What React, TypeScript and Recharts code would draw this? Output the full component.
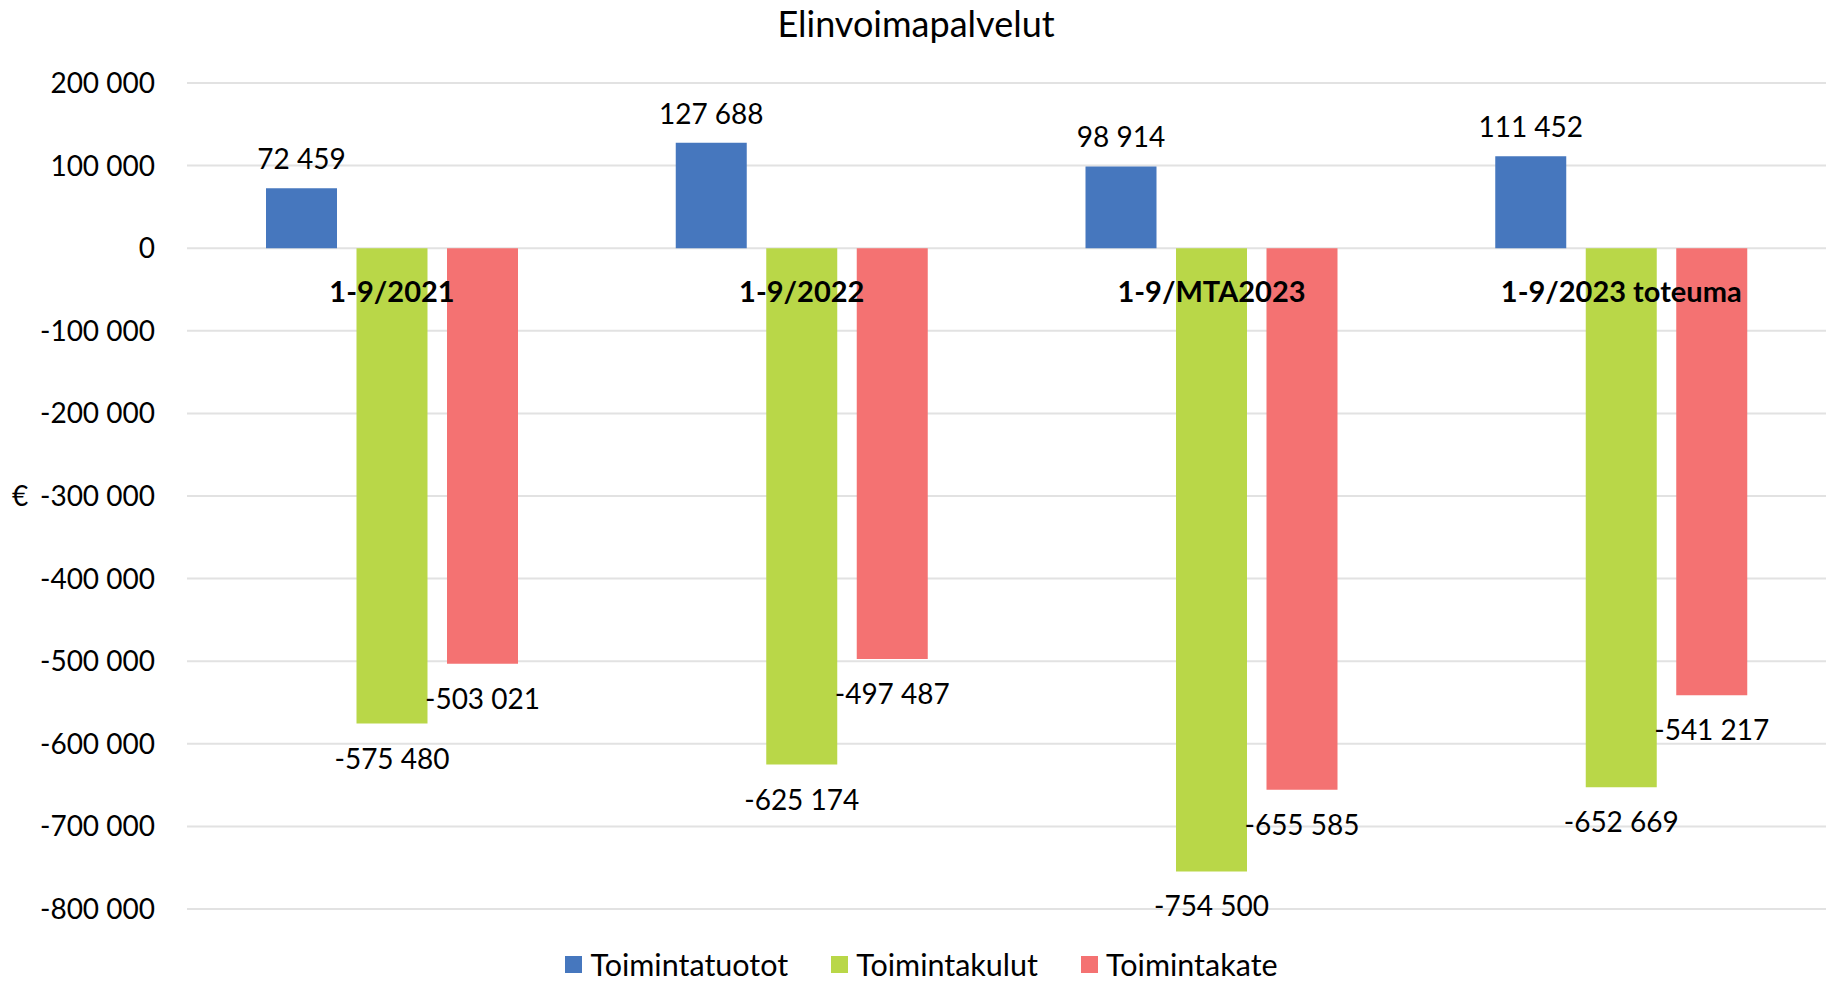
import { BarChart, Bar, XAxis, YAxis, CartesianGrid, Legend, LabelList } from 'recharts';

const categories = ['1-9/2021', '1-9/2022', '1-9/MTA2023', '1-9/2023 toteuma'];
const seriesNames = ['Toimintatuotot', 'Toimintakulut', 'Toimintakate'];
const toimintatuotot = [72459, 127688, 98914, 111452];
const toimintakulut = [-575480, -625174, -754500, -652669];
const toimintakate = [-503021, -497487, -655585, -541217];
const yTicks = [200000, 100000, 0, -100000, -200000, -300000, -400000, -500000, -600000, -700000, -800000];

const data = categories.map((name, i) => ({
  name,
  tuotot: toimintatuotot[i],
  kulut: toimintakulut[i],
  kate: toimintakate[i],
}));

const FONT = 'Lato, "Noto Sans", sans-serif';

// thousands with a plain space, as in the Finnish original
const fmt = (v: number) => String(v).replace(/\B(?=(\d{3})+(?!\d))/g, ' ');

function box(props: any) {
  const vb = props.viewBox ?? props;
  const top = Math.min(vb.y, vb.y + vb.height);
  const bottom = Math.max(vb.y, vb.y + vb.height);
  return { cx: vb.x + vb.width / 2, top, bottom };
}

function ValueLabel(props: any) {
  const { cx, top, bottom } = box(props);
  const v = Number(props.value);
  const y = v >= 0 ? top - 30 : bottom + 34;
  return (
    <text x={cx} y={y} textAnchor="middle" dominantBaseline="central" fill="#000" fontSize={28} fontFamily={FONT}>
      {fmt(v)}
    </text>
  );
}

// category names sit just under the zero line, centred on the middle bar
function CategoryLabel(props: any) {
  const { cx, top } = box(props);
  return (
    <text x={cx} y={top + 42} textAnchor="middle" dominantBaseline="central" fill="#000" fontSize={29} fontWeight={700} fontFamily={FONT}>
      {props.value}
    </text>
  );
}

function LegendContent({ payload }: any) {
  // keep series order instead of the alphabetical default
  const items = [...(payload ?? [])].sort(
    (a: any, b: any) => seriesNames.indexOf(a.value) - seriesNames.indexOf(b.value),
  );
  return (
    <div style={{ display: 'flex', justifyContent: 'center', alignItems: 'center', height: 28, gap: 43, fontFamily: FONT }}>
      {items.map((p: any) => (
        <div key={p.value} style={{ display: 'flex', alignItems: 'center', height: 28 }}>
          <span style={{ width: 17, height: 17, background: p.color, marginRight: 8, display: 'inline-block' }} />
          <span style={{ fontSize: 30.5, lineHeight: '28px', color: '#000' }}>{p.value}</span>
        </div>
      ))}
    </div>
  );
}

export default function App() {
  return (
    <div style={{ position: 'fixed', top: 0, left: 0, width: 1829, height: 983, background: '#fff', fontFamily: FONT }}>
      <div style={{ position: 'absolute', top: 2, left: 0, width: 1832, textAlign: 'center', fontSize: 36, lineHeight: '42px', color: '#000' }}>
        Elinvoimapalvelut
      </div>
      <BarChart
        width={1829}
        height={983}
        data={data}
        margin={{ top: 83, right: 3, bottom: 46, left: 0 }}
        barGap={19.5}
      >
        <CartesianGrid vertical={false} stroke="#e2e2e2" strokeWidth={2} />
        <XAxis dataKey="name" hide />
        <YAxis
          domain={[-800000, 200000]}
          ticks={yTicks}
          interval={0}
          tickFormatter={fmt}
          width={187}
          axisLine={false}
          tickLine={false}
          tickSize={0}
          tickMargin={32}
          tick={{ fill: '#000', fontSize: 28, fontFamily: FONT }}
          label={{ value: '€', position: 'insideLeft', offset: 12, fill: '#000', fontSize: 28, fontFamily: FONT }}
        />
        <Legend
          verticalAlign="bottom"
          content={<LegendContent />}
          wrapperStyle={{ top: 950, bottom: 'auto', left: 14, width: 1815, height: 28 }}
        />
        <Bar dataKey="tuotot" name="Toimintatuotot" fill="#4677be" barSize={71} isAnimationActive={false}>
          <LabelList dataKey="tuotot" content={<ValueLabel />} />
        </Bar>
        <Bar dataKey="kulut" name="Toimintakulut" fill="#b9d748" barSize={71} isAnimationActive={false}>
          <LabelList dataKey="kulut" content={<ValueLabel />} />
          <LabelList dataKey="name" content={<CategoryLabel />} />
        </Bar>
        <Bar dataKey="kate" name="Toimintakate" fill="#f47272" barSize={71} isAnimationActive={false}>
          <LabelList dataKey="kate" content={<ValueLabel />} />
        </Bar>
      </BarChart>
    </div>
  );
}
